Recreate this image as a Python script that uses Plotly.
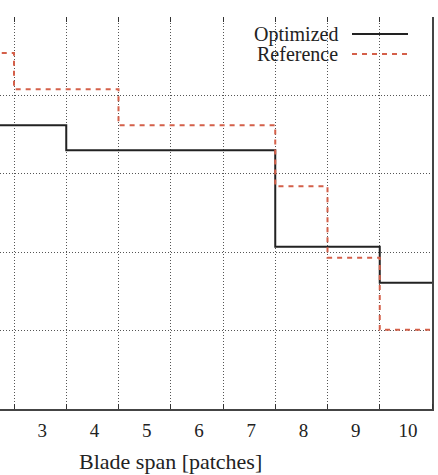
import plotly.graph_objects as go

patches = [2, 3, 4, 5, 6, 7, 8, 9, 10]
optimized = [3.62, 3.62, 3.30, 3.30, 3.30, 3.30, 2.07, 2.07, 1.61]
reference = [4.54, 4.08, 4.08, 3.62, 3.62, 3.62, 2.84, 1.93, 1.01]
tick_labels = [str(p) for p in range(3, 11)]
tick_vals = list(range(3, 11))
grid_x = [p + 0.5 for p in range(2, 11)]
grid_y = [1, 2, 3, 4, 5]
x_title = "Blade span [patches]"

def edges(vals):
    xs = [p - 0.5 for p in patches] + [patches[-1] + 0.5]
    ys = list(vals) + [vals[-1]]
    return xs, ys

FONT = "Liberation Serif"
H_PLOT = 392  # plot height px
W_PLOT = 432

fig = go.Figure()
xo, yo = edges(optimized)
xr, yr = edges(reference)
fig.add_trace(go.Scatter(x=xo, y=yo, mode="lines", line_shape="hv",
                         line=dict(color="#222222", width=2), name="Optimized", showlegend=False))
fig.add_trace(go.Scatter(x=xr, y=yr, mode="lines", line_shape="hv",
                         line=dict(color="#d4604a", width=2, dash="5px,5px"), name="Reference", showlegend=False))
fig.add_trace(go.Scatter(x=[None], y=[None], xaxis="x2", showlegend=False, hoverinfo="skip"))

x0 = 2.5 - 14 / 52.25
fig.update_layout(
    width=438, height=475,
    margin=dict(l=0, r=6, t=17, b=66),
    paper_bgcolor="white", plot_bgcolor="white",
    font=dict(family=FONT, size=19, color="#222222"),
    xaxis=dict(range=[x0, 10.5], tickvals=tick_vals, ticktext=tick_labels, ticks="",
               showgrid=False, zeroline=False, showline=True, linecolor="#444444", linewidth=2,
               tickfont=dict(family=FONT, size=19, color="#222222"),
               ticklabelshift=2, ticklabelstandoff=3,
               minor=dict(tickvals=grid_x, ticks="inside", ticklen=5, tickcolor="#333333",
                          showgrid=True, gridcolor="#555555", griddash="1px,2px", gridwidth=1)),
    xaxis2=dict(range=[x0, 10.5], overlaying="x", side="top", showticklabels=False,
                tickvals=grid_x, ticks="inside", ticklen=5, tickcolor="#333333", tickwidth=1,
                showgrid=False, zeroline=False, showline=False),
    yaxis=dict(range=[0, 5], side="right", showticklabels=False, ticks="",
               tickvals=grid_y, showgrid=True, gridcolor="#555555", griddash="1px,2px", gridwidth=1,
               zeroline=False, showline=True, linecolor="#444444", linewidth=2),
)

fig.add_annotation(xref="paper", yref="paper", x=170.5 / W_PLOT, y=-(462 - 409) / H_PLOT,
                   text=x_title, showarrow=False, xanchor="center", yanchor="middle",
                   font=dict(family=FONT, size=22, color="#222222"))

# legend drawn manually (text left of sample)
legend_items = [("Optimized", dict(color="#222222", width=2), 34),
                ("Reference", dict(color="#d4604a", width=2, dash="5px,5px"), 54)]
for label, ln, ypx in legend_items:
    yp = 1 - (ypx - 17) / H_PLOT
    fig.add_annotation(xref="paper", yref="paper", x=340 / W_PLOT, y=yp, text=label,
                       showarrow=False, xanchor="right", yanchor="middle",
                       font=dict(family=FONT, size=20, color="#222222"))
    fig.add_shape(type="line", xref="paper", yref="paper", x0=352 / W_PLOT, x1=408 / W_PLOT,
                  y0=yp, y1=yp, line=ln)

fig.write_html("out.html")
